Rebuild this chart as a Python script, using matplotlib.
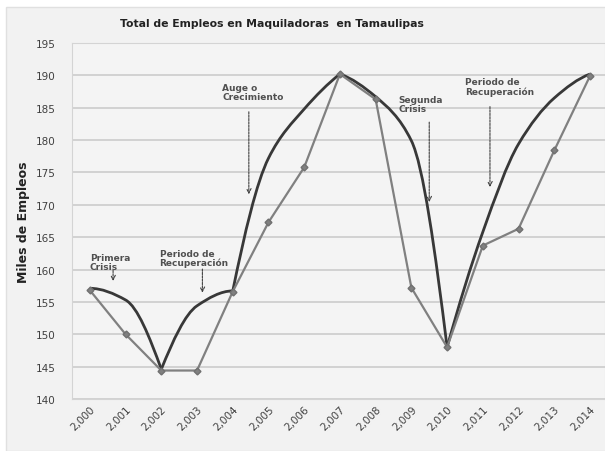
import numpy as np
import matplotlib.pyplot as plt
from matplotlib.path import Path
from matplotlib.patches import PathPatch, Rectangle

years = list(range(2000, 2015))
year_labels = ['2,000', '2,001', '2,002', '2,003', '2,004', '2,005', '2,006', '2,007',
               '2,008', '2,009', '2,010', '2,011', '2,012', '2,013', '2,014']

# gray series (markers)
empleos = [156.8, 150.0, 144.4, 144.4, 156.6, 167.3, 175.8, 190.2,
           186.3, 157.2, 148.0, 163.7, 166.3, 178.4, 189.9]

# dark smooth trend, read at each year
tendencia = [157.1, 155.3, 144.6, 154.4, 156.7, 177.2, 184.8, 190.2,
             186.7, 179.9, 148.0, 165.8, 179.4, 186.5, 190.2]
# years where the trend line has a sharp corner
quiebres = [2000, 2002, 2004, 2007, 2010, 2014]

notas = [
    ('Primera\nCrisis', 2000.0, 161.2, 2000.65, 157.8, 160.3),
    ('Periodo de\nRecuperación', 2001.95, 161.8, 2003.15, 156.0, 160.5),
    ('Auge o\nCrecimiento', 2003.7, 187.5, 2004.45, 171.2, 184.8),
    ('Segunda\nCrisis', 2008.65, 185.6, 2009.5, 170.0, 183.2),
    ('Periodo de\nRecuperación', 2010.5, 188.3, 2011.2, 172.3, 185.6),
]


def pendientes(ys):
    # monotone (pchip-like) slopes, unit spacing
    d = np.diff(ys)
    n = len(ys)
    m = np.zeros(n)
    for i in range(1, n - 1):
        if d[i - 1] * d[i] > 0:
            m[i] = 2 / (1 / d[i - 1] + 1 / d[i])
    if n > 2:
        m[0] = (3 * d[0] - d[1]) / 2
        if m[0] * d[0] <= 0:
            m[0] = 0
        m[-1] = (3 * d[-1] - d[-2]) / 2
        if m[-1] * d[-1] <= 0:
            m[-1] = 0
    else:
        m[:] = d[0]
    return m


def curva(xs, ys):
    m = pendientes(ys)
    verts = [(xs[0], ys[0])]
    codes = [Path.MOVETO]
    for i in range(len(xs) - 1):
        verts += [(xs[i] + 1 / 3, ys[i] + m[i] / 3),
                  (xs[i + 1] - 1 / 3, ys[i + 1] - m[i + 1] / 3),
                  (xs[i + 1], ys[i + 1])]
        codes += [Path.CURVE4] * 3
    return Path(verts, codes)


fig = plt.figure(figsize=(6.05, 4.52), dpi=100, facecolor='white')
fig.patches.append(Rectangle((6 / 605, 0), 1, 1 - 8 / 452, transform=fig.transFigure,
                             facecolor='#f2f2f2', edgecolor='#e0e0e0', zorder=-1))
ax = fig.add_axes([72 / 605, 52 / 452, 533 / 605, 356 / 452])
ax.set_facecolor('#f4f4f4')

ax.set_ylim(140, 195)
ax.set_xlim(1999.5, 2014.42)
ax.set_yticks(range(140, 200, 5))
ax.grid(axis='y', color='#cfcfcf', linewidth=1.3)
ax.set_axisbelow(True)
for s in ax.spines.values():
    s.set_color('#d4d4d4')
ax.tick_params(length=0, labelsize=7.5, colors='#404040')
ax.tick_params(axis='y', pad=12)
ax.set_xticks(years)
ax.set_xticklabels(year_labels, rotation=45, ha='right', va='top',
                   rotation_mode='anchor', fontsize=7.5)

# dark curve, one smooth piece between each pair of corners
for a, b in zip(quiebres[:-1], quiebres[1:]):
    i, j = years.index(a), years.index(b)
    p = curva(years[i:j + 1], tendencia[i:j + 1])
    ax.add_patch(PathPatch(p, facecolor='none', edgecolor='#383838', lw=2.0, zorder=3))

ax.plot(years, empleos, color='#808080', lw=1.6, marker='D', markersize=3.5,
        markerfacecolor='#808080', markeredgecolor='#707070', zorder=4)

for texto, tx, ty, ax_x, y_fin, y_ini in notas:
    ax.text(tx, ty, texto, fontsize=6.5, color='#505050', ha='left', va='center',
            fontweight='bold', linespacing=1.0)
    ax.annotate('', xy=(ax_x, y_fin), xytext=(ax_x, y_ini),
                arrowprops=dict(arrowstyle='->', color='#404040', lw=0.8,
                                linestyle=(0, (2, 1)), mutation_scale=8))

fig.suptitle('Total de Empleos en Maquiladoras  en Tamaulipas', x=272 / 605, y=1 - 24 / 452,
             va='center', fontsize=7.8, fontweight='bold', color='#222222')
fig.text(24 / 605, 1 - 222 / 452, 'Miles de Empleos', rotation=90, ha='center',
         va='center', fontsize=9, fontweight='bold', color='#222222')

fig.savefig('out.png', dpi=100, facecolor=fig.get_facecolor())
